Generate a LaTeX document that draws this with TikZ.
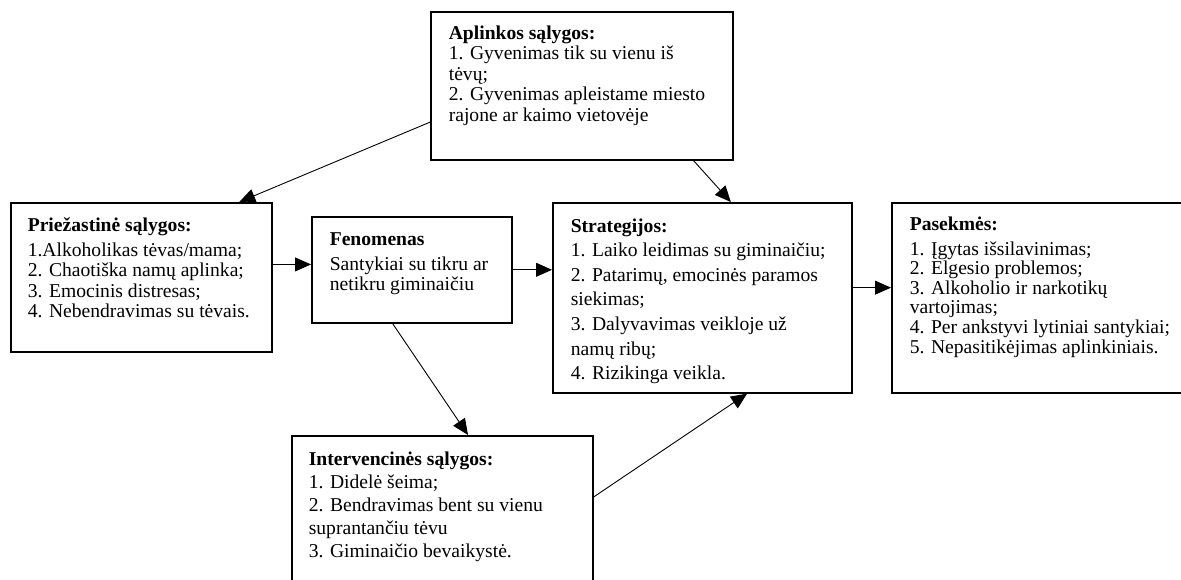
\documentclass[tikz,border=0pt]{standalone}
\usepackage{fontspec}
\setmainfont{Liberation Serif}
\usetikzlibrary{calc,arrows.meta}
\newcommand\boxfont[1]{\fontsize{19.6}{#1}\selectfont}

\begin{document}
\begin{tikzpicture}[x=1pt,y=-1pt,
        blk/.style 2 args={draw,line width=1.6pt,anchor=north west,inner xsep=18pt,
            execute at begin node={\begin{minipage}[t][#2][t]{#1}},
            execute at end node={\end{minipage}}},
        arr/.style={line width=0.9pt,-{Triangle[length=16pt,width=14pt]}}]
        \useasboundingbox (0,0) rectangle (1181,579);
        \node[blk={266pt}{120.8pt},inner ysep=13.6pt,font=\boxfont{20.5}] (apl) at (430,11) {\textbf{Aplinkos sąlygos:}\\1. Gyvenimas tik su vienu iš\\tėvų;\\2. Gyvenimas apleistame miesto\\rajone ar kaimo vietovėje};
        \node[blk={227pt}{119.8pt},inner xsep=17pt,inner ysep=14.6pt,font=\boxfont{20.3}] (prz) at (10,202) {\textbf{Priežastinė sąlygos:}\\[5pt]1.Alkoholikas tėvas/mama;\\2. Chaotiška namų aplinka;\\3. Emocinis distresas;\\4. Nebendravimas su tėvais.};
        \node[blk={164pt}{74.8pt},inner ysep=15.6pt,font=\boxfont{20}] (fen) at (311,216) {\textbf{Fenomenas}\\[5pt]Santykiai su tikru ar\\netikru giminaičiu};
        \node[blk={263pt}{158.8pt},inner ysep=15.6pt,font=\boxfont{24.6}] (str) at (552,202) {\textbf{Strategijos:}\\1. Laiko leidimas su giminaičiu;\\2. Patarimų, emocinės paramos\\siekimas;\\3. Dalyvavimas veikloje už\\namų ribų;\\4. Rizikinga veikla.};
        \node[blk={264pt}{162pt},inner ysep=14pt,font=\boxfont{19.6}] (pas) at (891,202) {\textbf{Pasekmės:}\\[5pt]1. Įgytas išsilavinimas;\\2. Elgesio problemos;\\3. Alkoholio ir narkotikų\\vartojimas;\\4. Per ankstyvi lytiniai santykiai;\\5. Nepasitikėjimas aplinkiniais.};
        \node[blk={267pt}{138.8pt},inner xsep=17pt,inner ysep=15.6pt,font=\boxfont{23}] (int) at (291,435) {\textbf{Intervencinės sąlygos:}\\1. Didelė šeima;\\2. Bendravimas bent su vienu\\suprantančiu tėvu\\3. Giminaičio bevaikystė.};
        \coordinate (pf) at ($(fen.north west)!0.45!(fen.south west)$);
        \coordinate (sp) at ($(str.north east)!0.447!(str.south east)$);
        \draw[arr] ($(apl.north west)!0.743!(apl.south west)$) -- ($(prz.north west)!0.873!(prz.north east)$);
        \draw[arr] ($(apl.south west)!0.868!(apl.south east)$) -- ($(str.north west)!0.595!(str.north east)$);
        \draw[arr] (prz.east |- pf) -- (pf);
        \draw[arr] (fen.east) -- (fen.east -| str.west);
        \draw[arr] (sp) -- (sp -| pas.west);
        \draw[arr] ($(fen.south west)!0.405!(fen.south east)$) -- ($(int.north west)!0.585!(int.north east)$);
        \draw[arr] ([yshift=-62pt]int.north east) -- ($(str.south west)!0.649!(str.south east)$);
    \end{tikzpicture}
\end{document}
